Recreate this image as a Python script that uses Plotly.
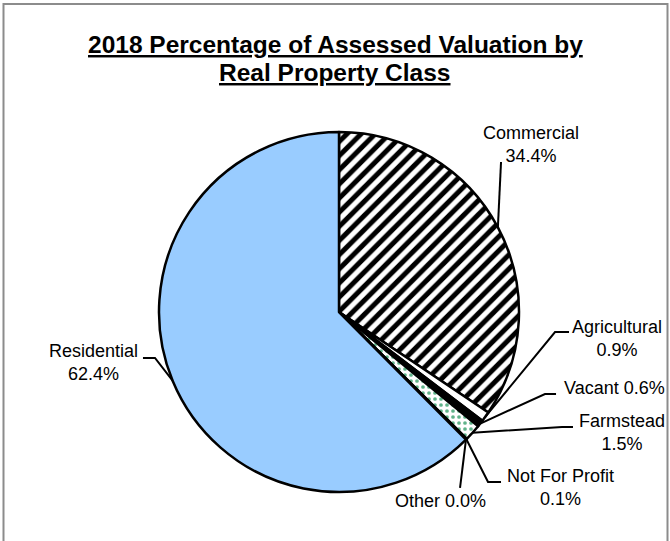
import math
import plotly.graph_objects as go

# data
classes = ["Commercial", "Agricultural", "Vacant", "Farmstead",
           "Not For Profit", "Other", "Residential"]
percent = [34.4, 0.9, 0.6, 1.5, 0.1, 0.0, 62.4]
title_lines = ["2018 Percentage of Assessed Valuation by", "Real Property Class"]

W, H = 670, 541
CX, CY, R = 339, 312, 180  # pie centre / radius in px

slice_colors = ["white", "white", "black", "white", "white", "white", "#99ccff"]
pattern_shapes = ["/", "", "", ".", "", "", ""]
pattern_fg = ["black", "black", "black", "#5fb38a", "black", "black", "black"]

# label placement: text centre, elbow point, line start (px)
label_layout = {
    "Commercial":     dict(text=(531, 144), pts=[(501, 162)], two=True),
    "Agricultural":   dict(text=(617, 338), pts=[(569, 332), (555, 332)], two=True),
    "Vacant":         dict(text=(614, 388), pts=[(556, 394), (545, 394)], two=False),
    "Farmstead":      dict(text=(622, 432), pts=[(573, 427), (562, 427)], two=True),
    "Not For Profit": dict(text=(560, 487), pts=[(501, 482), (488, 482)], two=True),
    "Other":          dict(text=(440, 501), pts=[(460, 488)], two=False),
    "Residential":    dict(text=(93, 362), pts=[(143, 358), (155, 358)], two=True),
}


def px2paper(x, y):
    return x / W, 1 - y / H


fig = go.Figure(go.Pie(
    labels=classes,
    values=percent,
    sort=False,
    direction="clockwise",
    rotation=0,
    textinfo="none",
    hoverinfo="label+percent",
    marker=dict(
        colors=slice_colors,
        line=dict(color="black", width=2.5),
        pattern=dict(shape=pattern_shapes, fgcolor=pattern_fg,
                     bgcolor=slice_colors, fgopacity=1,
                     size=[10, 8, 8, 6, 8, 8, 8],
                     solidity=[0.5, 0.3, 0.3, 0.3, 0.3, 0.3, 0.3],
                     fillmode="replace"),
    ),
    domain=dict(x=[(CX - R) / W, (CX + R) / W],
                y=[1 - (CY + R) / H, 1 - (CY - R) / H]),
    showlegend=False,
))

shapes = []
annotations = []
total = sum(percent)
cum = 0.0
for name, v in zip(classes, percent):
    mid = (cum + v / 2) / total * 2 * math.pi
    cum += v
    edge = (CX + R * math.sin(mid), CY - R * math.cos(mid))
    lay = label_layout[name]
    pts = lay["pts"] + [edge]
    path = "M " + " L ".join(
        "{:.4f},{:.4f}".format(*px2paper(x, y)) for x, y in pts)
    shapes.append(dict(type="path", xref="paper", yref="paper", path=path,
                       line=dict(color="black", width=2)))
    sep = "<br>" if lay["two"] else " "
    tx, ty = px2paper(*lay["text"])
    annotations.append(dict(
        x=tx, y=ty, xref="paper", yref="paper", showarrow=False,
        text=f"{name}{sep}{v:.1f}%", align="center",
        font=dict(family="Liberation Sans, Arial", size=18, color="black"),
        xanchor="center", yanchor="middle"))

for i, line in enumerate(title_lines):
    annotations.append(dict(
        x=335 / W, y=1 - (45 + 28 * i) / H, xref="paper", yref="paper",
        showarrow=False, text=f"<b><u>{line}</u></b>",
        font=dict(family="Liberation Sans, Arial", size=24.5, color="black"),
        xanchor="center", yanchor="middle"))

# chart-area border
shapes.append(dict(type="rect", xref="paper", yref="paper",
                   x0=3.5 / W, x1=667.5 / W, y0=1 - 548 / H, y1=1 - 4 / H,
                   line=dict(color="#8c8c8c", width=2), layer="below"))

fig.update_layout(
    width=W, height=H,
    margin=dict(l=0, r=0, t=0, b=0),
    paper_bgcolor="white",
    plot_bgcolor="white",
    shapes=shapes,
    annotations=annotations,
)

fig.write_html("out.html", config={"displayModeBar": False},
               post_script="document.body.style.margin='0';")
